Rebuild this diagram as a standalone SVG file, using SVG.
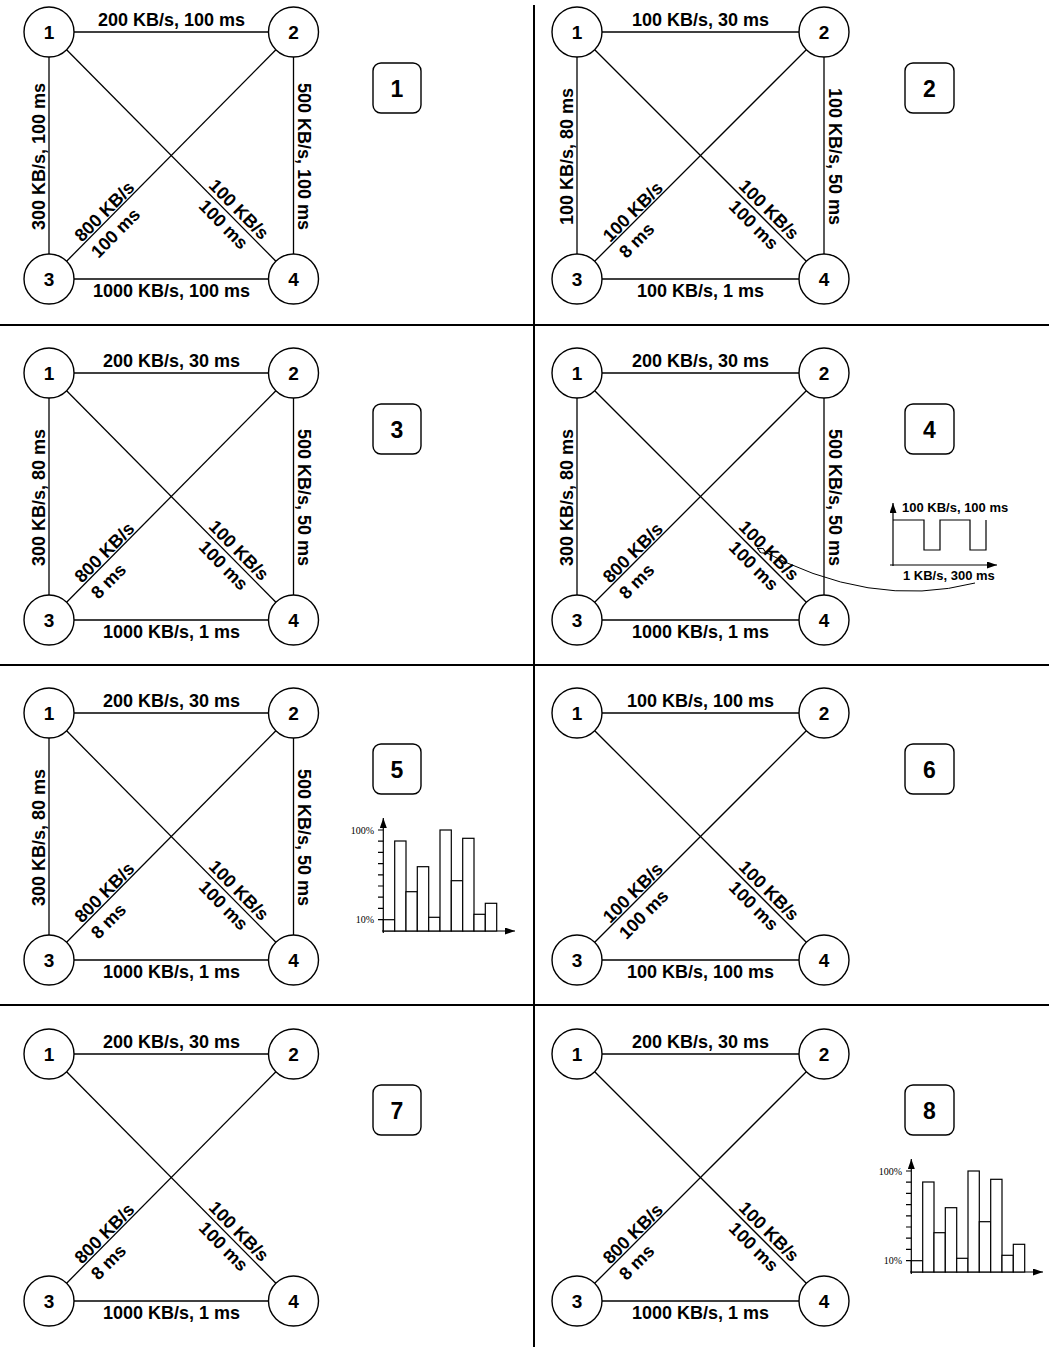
<svg xmlns="http://www.w3.org/2000/svg" xmlns:xlink="http://www.w3.org/1999/xlink" width="1049" height="1347" viewBox="0 0 1049 1347">
<style>
.edge{stroke:#000;stroke-width:1.3;fill:none}
.div{stroke:#000;stroke-width:2;fill:none}
.nc{fill:#fff;stroke:#000;stroke-width:1.4}
.nt{font-family:"Liberation Sans",Arial,sans-serif;font-weight:bold;font-size:19px;text-anchor:middle}
.bx{fill:#fff;stroke:#000;stroke-width:1.4}
.bt{font-family:"Liberation Sans",Arial,sans-serif;font-weight:bold;font-size:23px;text-anchor:middle}
.lb{font-family:"Liberation Sans",Arial,sans-serif;font-weight:bold;font-size:18px;text-anchor:middle}
.ls{font-family:"Liberation Sans",Arial,sans-serif;font-weight:bold;font-size:18px;text-anchor:start}
.sm{font-family:"Liberation Sans",Arial,sans-serif;font-weight:bold;font-size:13px}
.pc{font-family:"Liberation Serif","Times New Roman",serif;font-size:10px;text-anchor:end}
.ax{stroke:#000;stroke-width:1.2;fill:none;marker-end:url(#arr)}
.thin{stroke:#000;stroke-width:1.2;fill:none}
.bar{fill:#fff;stroke:#000;stroke-width:1.2}
</style>
<defs>
<marker id="arr" viewBox="0 -3.5 10 7" refX="10" refY="0" markerWidth="10" markerHeight="7" markerUnits="userSpaceOnUse" orient="auto"><path d="M0,-3.5 L10,0 L0,3.5 Z" fill="#000"/></marker>
<marker id="dia" viewBox="0 -3 11 6" refX="0" refY="0" markerWidth="11" markerHeight="6" markerUnits="userSpaceOnUse" orient="auto"><path d="M0.5,0 L5.5,-2.5 L10.5,0 L5.5,2.5 Z" fill="#fff" stroke="#000" stroke-width="1"/></marker>
<g id="hist">
<line class="ax" x1="383.3" y1="933" x2="383.3" y2="818"/>
<line class="ax" x1="382" y1="931" x2="515" y2="931"/>
<path class="thin" d="M378 830H383.3M378 841.2H383.3M378 852.4H383.3M378 863.6H383.3M378 874.8H383.3M378 886H383.3M378 897.2H383.3M378 908.4H383.3M378 919.6H383.3"/>
<rect class="bar" x="383.3" y="919.7" width="11.4" height="11.3"/>
<rect class="bar" x="394.7" y="841" width="11.3" height="90"/>
<rect class="bar" x="406" y="891.7" width="11.3" height="39.3"/>
<rect class="bar" x="417.3" y="866.7" width="11.4" height="64.3"/>
<rect class="bar" x="428.7" y="917.3" width="11.3" height="13.7"/>
<rect class="bar" x="440" y="830" width="11.3" height="101"/>
<rect class="bar" x="451.3" y="880.7" width="11.4" height="50.3"/>
<rect class="bar" x="462.7" y="838.3" width="11.3" height="92.7"/>
<rect class="bar" x="474" y="914.3" width="11.3" height="16.7"/>
<rect class="bar" x="485.3" y="903.3" width="11.4" height="27.7"/>
<text class="pc" x="374" y="834">100%</text>
<text class="pc" x="374" y="923">10%</text>
</g>
</defs>
<rect width="1049" height="1347" fill="#fff"/>

<g id="dividers">
<line class="div" x1="534" y1="5" x2="534" y2="1347"/>
<line class="div" x1="0" y1="325" x2="1049" y2="325"/>
<line class="div" x1="0" y1="665" x2="1049" y2="665"/>
<line class="div" x1="0" y1="1005" x2="1049" y2="1005"/>
</g>

<g id="connectors">
<!-- panel 1 -->
<line class="edge" x1="74" y1="32" x2="268.5" y2="32"/>
<line class="edge" x1="74" y1="279" x2="268.5" y2="279"/>
<line class="edge" x1="49" y1="57" x2="49" y2="254"/>
<line class="edge" x1="293.5" y1="57" x2="293.5" y2="254"/>
<line class="edge" x1="66.6" y1="49.8" x2="275.9" y2="261.2"/>
<line class="edge" x1="275.9" y1="49.8" x2="66.6" y2="261.2"/>
<!-- panel 2 -->
<line class="edge" x1="602" y1="32" x2="799" y2="32"/>
<line class="edge" x1="602" y1="279" x2="799" y2="279"/>
<line class="edge" x1="577" y1="57" x2="577" y2="254"/>
<line class="edge" x1="824" y1="57" x2="824" y2="254"/>
<line class="edge" x1="594.7" y1="49.7" x2="806.3" y2="261.3"/>
<line class="edge" x1="806.3" y1="49.7" x2="594.7" y2="261.3"/>
<!-- panel 3 -->
<line class="edge" x1="74" y1="373" x2="268.5" y2="373"/>
<line class="edge" x1="74" y1="620" x2="268.5" y2="620"/>
<line class="edge" x1="49" y1="398" x2="49" y2="595"/>
<line class="edge" x1="293.5" y1="398" x2="293.5" y2="595"/>
<line class="edge" x1="66.6" y1="390.8" x2="275.9" y2="602.2"/>
<line class="edge" x1="275.9" y1="390.8" x2="66.6" y2="602.2"/>
<!-- panel 4 -->
<line class="edge" x1="602" y1="373" x2="799" y2="373"/>
<line class="edge" x1="602" y1="620" x2="799" y2="620"/>
<line class="edge" x1="577" y1="398" x2="577" y2="595"/>
<line class="edge" x1="824" y1="398" x2="824" y2="595"/>
<line class="edge" x1="594.7" y1="390.7" x2="806.3" y2="602.3"/>
<line class="edge" x1="806.3" y1="390.7" x2="594.7" y2="602.3"/>
<!-- panel 5 -->
<line class="edge" x1="74" y1="713" x2="268.5" y2="713"/>
<line class="edge" x1="74" y1="960" x2="268.5" y2="960"/>
<line class="edge" x1="49" y1="738" x2="49" y2="935"/>
<line class="edge" x1="293.5" y1="738" x2="293.5" y2="935"/>
<line class="edge" x1="66.6" y1="730.8" x2="275.9" y2="942.2"/>
<line class="edge" x1="275.9" y1="730.8" x2="66.6" y2="942.2"/>
<!-- panel 6 -->
<line class="edge" x1="602" y1="713" x2="799" y2="713"/>
<line class="edge" x1="602" y1="960" x2="799" y2="960"/>
<line class="edge" x1="594.7" y1="730.7" x2="806.3" y2="942.3"/>
<line class="edge" x1="806.3" y1="730.7" x2="594.7" y2="942.3"/>
<!-- panel 7 -->
<line class="edge" x1="74" y1="1054" x2="268.5" y2="1054"/>
<line class="edge" x1="74" y1="1301" x2="268.5" y2="1301"/>
<line class="edge" x1="66.6" y1="1071.8" x2="275.9" y2="1283.2"/>
<line class="edge" x1="275.9" y1="1071.8" x2="66.6" y2="1283.2"/>
<!-- panel 8 -->
<line class="edge" x1="602" y1="1054" x2="799" y2="1054"/>
<line class="edge" x1="602" y1="1301" x2="799" y2="1301"/>
<line class="edge" x1="594.7" y1="1071.7" x2="806.3" y2="1283.3"/>
<line class="edge" x1="806.3" y1="1071.7" x2="594.7" y2="1283.3"/>
<!-- panel 4 callout -->
<path d="M757 548 Q870 610 975 583" stroke="#000" stroke-width="1" fill="none" marker-start="url(#dia)"/>
</g>

<g id="edge-labels">
<!-- panel 1 -->
<text class="lb" x="171.5" y="26">200 KB/s, 100 ms</text>
<text class="lb" x="171.5" y="297">1000 KB/s, 100 ms</text>
<text class="lb" transform="translate(44.5,156.5) rotate(-90)">300 KB/s, 100 ms</text>
<text class="lb" transform="translate(298,156.5) rotate(90)">500 KB/s, 100 ms</text>
<g transform="translate(83.5,244.2) rotate(-45.29)"><text class="ls" y="-2">800 KB/s</text><text class="ls" y="21">100 ms</text></g>
<g transform="translate(231.6,216.4) rotate(45.29)"><text class="lb" y="-4">100 KB/s</text><text class="lb" y="17.5">100 ms</text></g>
<!-- panel 2 -->
<text class="lb" x="700.5" y="26">100 KB/s, 30 ms</text>
<text class="lb" x="700.5" y="297">100 KB/s, 1 ms</text>
<text class="lb" transform="translate(572.5,156.5) rotate(-90)">100 KB/s, 80 ms</text>
<text class="lb" transform="translate(828.5,156.5) rotate(90)">100 KB/s, 50 ms</text>
<g transform="translate(611.6,244.4) rotate(-45)"><text class="ls" y="-2">100 KB/s</text><text class="ls" y="21">8 ms</text></g>
<g transform="translate(761.8,216.8) rotate(45)"><text class="lb" y="-4">100 KB/s</text><text class="lb" y="17.5">100 ms</text></g>
<!-- panel 3 -->
<text class="lb" x="171.5" y="367">200 KB/s, 30 ms</text>
<text class="lb" x="171.5" y="638">1000 KB/s, 1 ms</text>
<text class="lb" transform="translate(44.5,497.5) rotate(-90)">300 KB/s, 80 ms</text>
<text class="lb" transform="translate(298,497.5) rotate(90)">500 KB/s, 50 ms</text>
<g transform="translate(83.5,585.2) rotate(-45.29)"><text class="ls" y="-2">800 KB/s</text><text class="ls" y="21">8 ms</text></g>
<g transform="translate(231.6,557.4) rotate(45.29)"><text class="lb" y="-4">100 KB/s</text><text class="lb" y="17.5">100 ms</text></g>
<!-- panel 4 -->
<text class="lb" x="700.5" y="367">200 KB/s, 30 ms</text>
<text class="lb" x="700.5" y="638">1000 KB/s, 1 ms</text>
<text class="lb" transform="translate(572.5,497.5) rotate(-90)">300 KB/s, 80 ms</text>
<text class="lb" transform="translate(828.5,497.5) rotate(90)">500 KB/s, 50 ms</text>
<g transform="translate(611.6,585.4) rotate(-45)"><text class="ls" y="-2">800 KB/s</text><text class="ls" y="21">8 ms</text></g>
<g transform="translate(761.8,557.8) rotate(45)"><text class="lb" y="-4">100 KB/s</text><text class="lb" y="17.5">100 ms</text></g>
<!-- panel 5 -->
<text class="lb" x="171.5" y="707">200 KB/s, 30 ms</text>
<text class="lb" x="171.5" y="978">1000 KB/s, 1 ms</text>
<text class="lb" transform="translate(44.5,837.5) rotate(-90)">300 KB/s, 80 ms</text>
<text class="lb" transform="translate(298,837.5) rotate(90)">500 KB/s, 50 ms</text>
<g transform="translate(83.5,925.2) rotate(-45.29)"><text class="ls" y="-2">800 KB/s</text><text class="ls" y="21">8 ms</text></g>
<g transform="translate(231.6,897.4) rotate(45.29)"><text class="lb" y="-4">100 KB/s</text><text class="lb" y="17.5">100 ms</text></g>
<!-- panel 6 -->
<text class="lb" x="700.5" y="707">100 KB/s, 100 ms</text>
<text class="lb" x="700.5" y="978">100 KB/s, 100 ms</text>
<g transform="translate(611.6,925.4) rotate(-45)"><text class="ls" y="-2">100 KB/s</text><text class="ls" y="21">100 ms</text></g>
<g transform="translate(761.8,897.8) rotate(45)"><text class="lb" y="-4">100 KB/s</text><text class="lb" y="17.5">100 ms</text></g>
<!-- panel 7 -->
<text class="lb" x="171.5" y="1048">200 KB/s, 30 ms</text>
<text class="lb" x="171.5" y="1319">1000 KB/s, 1 ms</text>
<g transform="translate(83.5,1266.2) rotate(-45.29)"><text class="ls" y="-2">800 KB/s</text><text class="ls" y="21">8 ms</text></g>
<g transform="translate(231.6,1238.4) rotate(45.29)"><text class="lb" y="-4">100 KB/s</text><text class="lb" y="17.5">100 ms</text></g>
<!-- panel 8 -->
<text class="lb" x="700.5" y="1048">200 KB/s, 30 ms</text>
<text class="lb" x="700.5" y="1319">1000 KB/s, 1 ms</text>
<g transform="translate(611.6,1266.4) rotate(-45)"><text class="ls" y="-2">800 KB/s</text><text class="ls" y="21">8 ms</text></g>
<g transform="translate(761.8,1238.8) rotate(45)"><text class="lb" y="-4">100 KB/s</text><text class="lb" y="17.5">100 ms</text></g>
</g>

<g id="p1-n1"><circle class="nc" cx="49" cy="32" r="25"/><text class="nt" x="49" y="39">1</text></g>
<g id="p1-n2"><circle class="nc" cx="293.5" cy="32" r="25"/><text class="nt" x="293.5" y="39">2</text></g>
<g id="p1-n3"><circle class="nc" cx="49" cy="279" r="25"/><text class="nt" x="49" y="286">3</text></g>
<g id="p1-n4"><circle class="nc" cx="293.5" cy="279" r="25"/><text class="nt" x="293.5" y="286">4</text></g>
<g id="p1-label"><rect class="bx" x="373" y="63" width="48" height="50" rx="8"/><text class="bt" x="397" y="97">1</text></g>

<g id="p2-n1"><circle class="nc" cx="577" cy="32" r="25"/><text class="nt" x="577" y="39">1</text></g>
<g id="p2-n2"><circle class="nc" cx="824" cy="32" r="25"/><text class="nt" x="824" y="39">2</text></g>
<g id="p2-n3"><circle class="nc" cx="577" cy="279" r="25"/><text class="nt" x="577" y="286">3</text></g>
<g id="p2-n4"><circle class="nc" cx="824" cy="279" r="25"/><text class="nt" x="824" y="286">4</text></g>
<g id="p2-label"><rect class="bx" x="905" y="63" width="49" height="50" rx="8"/><text class="bt" x="929.5" y="97">2</text></g>

<g id="p3-n1"><circle class="nc" cx="49" cy="373" r="25"/><text class="nt" x="49" y="380">1</text></g>
<g id="p3-n2"><circle class="nc" cx="293.5" cy="373" r="25"/><text class="nt" x="293.5" y="380">2</text></g>
<g id="p3-n3"><circle class="nc" cx="49" cy="620" r="25"/><text class="nt" x="49" y="627">3</text></g>
<g id="p3-n4"><circle class="nc" cx="293.5" cy="620" r="25"/><text class="nt" x="293.5" y="627">4</text></g>
<g id="p3-label"><rect class="bx" x="373" y="404" width="48" height="50" rx="8"/><text class="bt" x="397" y="438">3</text></g>

<g id="p4-n1"><circle class="nc" cx="577" cy="373" r="25"/><text class="nt" x="577" y="380">1</text></g>
<g id="p4-n2"><circle class="nc" cx="824" cy="373" r="25"/><text class="nt" x="824" y="380">2</text></g>
<g id="p4-n3"><circle class="nc" cx="577" cy="620" r="25"/><text class="nt" x="577" y="627">3</text></g>
<g id="p4-n4"><circle class="nc" cx="824" cy="620" r="25"/><text class="nt" x="824" y="627">4</text></g>
<g id="p4-label"><rect class="bx" x="905" y="404" width="49" height="50" rx="8"/><text class="bt" x="929.5" y="438">4</text></g>
<g id="p4-chart">
<line class="ax" x1="893" y1="566" x2="893" y2="503"/>
<line class="ax" x1="890" y1="565" x2="997" y2="565"/>
<path class="thin" d="M893 520H924V550H940V520H970V550H986V520"/>
<text class="sm" x="902" y="512">100 KB/s, 100 ms</text>
<text class="sm" x="903" y="580">1 KB/s, 300 ms</text>
</g>

<g id="p5-n1"><circle class="nc" cx="49" cy="713" r="25"/><text class="nt" x="49" y="720">1</text></g>
<g id="p5-n2"><circle class="nc" cx="293.5" cy="713" r="25"/><text class="nt" x="293.5" y="720">2</text></g>
<g id="p5-n3"><circle class="nc" cx="49" cy="960" r="25"/><text class="nt" x="49" y="967">3</text></g>
<g id="p5-n4"><circle class="nc" cx="293.5" cy="960" r="25"/><text class="nt" x="293.5" y="967">4</text></g>
<g id="p5-label"><rect class="bx" x="373" y="744" width="48" height="50" rx="8"/><text class="bt" x="397" y="778">5</text></g>
<g id="p5-hist"><use xlink:href="#hist" href="#hist"/></g>

<g id="p6-n1"><circle class="nc" cx="577" cy="713" r="25"/><text class="nt" x="577" y="720">1</text></g>
<g id="p6-n2"><circle class="nc" cx="824" cy="713" r="25"/><text class="nt" x="824" y="720">2</text></g>
<g id="p6-n3"><circle class="nc" cx="577" cy="960" r="25"/><text class="nt" x="577" y="967">3</text></g>
<g id="p6-n4"><circle class="nc" cx="824" cy="960" r="25"/><text class="nt" x="824" y="967">4</text></g>
<g id="p6-label"><rect class="bx" x="905" y="744" width="49" height="50" rx="8"/><text class="bt" x="929.5" y="778">6</text></g>

<g id="p7-n1"><circle class="nc" cx="49" cy="1054" r="25"/><text class="nt" x="49" y="1061">1</text></g>
<g id="p7-n2"><circle class="nc" cx="293.5" cy="1054" r="25"/><text class="nt" x="293.5" y="1061">2</text></g>
<g id="p7-n3"><circle class="nc" cx="49" cy="1301" r="25"/><text class="nt" x="49" y="1308">3</text></g>
<g id="p7-n4"><circle class="nc" cx="293.5" cy="1301" r="25"/><text class="nt" x="293.5" y="1308">4</text></g>
<g id="p7-label"><rect class="bx" x="373" y="1085" width="48" height="50" rx="8"/><text class="bt" x="397" y="1119">7</text></g>

<g id="p8-n1"><circle class="nc" cx="577" cy="1054" r="25"/><text class="nt" x="577" y="1061">1</text></g>
<g id="p8-n2"><circle class="nc" cx="824" cy="1054" r="25"/><text class="nt" x="824" y="1061">2</text></g>
<g id="p8-n3"><circle class="nc" cx="577" cy="1301" r="25"/><text class="nt" x="577" y="1308">3</text></g>
<g id="p8-n4"><circle class="nc" cx="824" cy="1301" r="25"/><text class="nt" x="824" y="1308">4</text></g>
<g id="p8-label"><rect class="bx" x="905" y="1085" width="49" height="50" rx="8"/><text class="bt" x="929.5" y="1119">8</text></g>
<g id="p8-hist"><use xlink:href="#hist" href="#hist" transform="translate(528,341)"/></g>
</svg>
